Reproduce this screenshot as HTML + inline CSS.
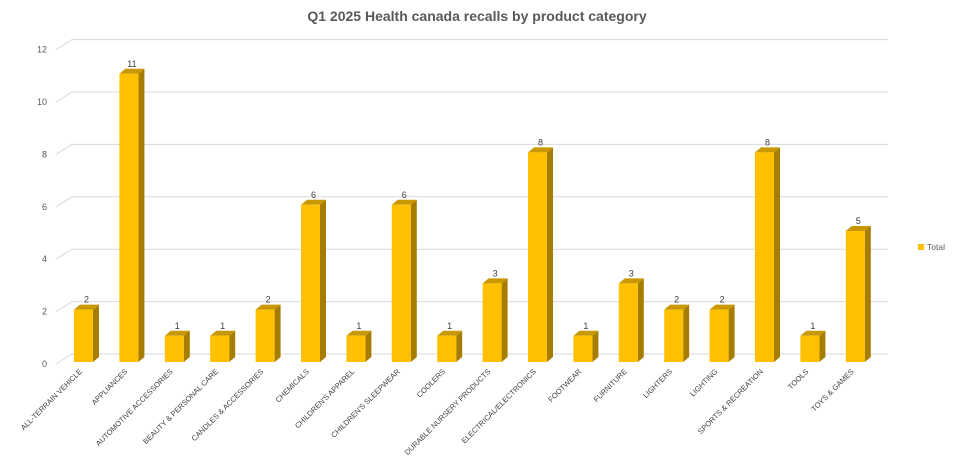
<!DOCTYPE html>
<html><head><meta charset="utf-8"><style>
html,body{margin:0;padding:0;background:#fff;}
svg{display:block;font-family:"Liberation Sans",Arial,sans-serif;}
</style></head><body>
<svg width="954" height="469" viewBox="0 0 954 469" xmlns="http://www.w3.org/2000/svg">
<text x="477" y="21" text-anchor="middle" font-size="14" font-weight="bold" fill="#595959">Q1 2025 Health canada recalls by product category</text>
<g stroke="#d9d9d9" stroke-width="1" fill="none">
<path d="M56 364 L72 354 L888 354"/>
<path d="M56 311.6 L72 301.6 L888 301.6"/>
<path d="M56 259.2 L72 249.2 L888 249.2"/>
<path d="M56 206.8 L72 196.8 L888 196.8"/>
<path d="M56 154.4 L72 144.4 L888 144.4"/>
<path d="M56 102 L72 92 L888 92"/>
<path d="M56 49.6 L72 39.6 L888 39.6"/>
</g>
<g font-size="9" fill="#595959" text-anchor="end">
<text x="47" y="367">0</text>
<text x="47" y="314.6">2</text>
<text x="47" y="262.2">4</text>
<text x="47" y="209.8">6</text>
<text x="47" y="157.4">8</text>
<text x="47" y="105">10</text>
<text x="47" y="52.6">12</text>
</g>
<defs>
<g id="b1"><polygon points="19,335.8 25,330.8 25,357 19,362" fill="#a67d00"/><polygon points="0,335.8 6,330.8 25,330.8 19,335.8" fill="#c99700"/><rect x="0" y="335.8" width="19" height="26.2" fill="#ffc000"/><text x="12.5" y="328.8" font-size="9" fill="#404040" text-anchor="middle">1</text></g>
<g id="b2"><polygon points="19,309.6 25,304.6 25,357 19,362" fill="#a67d00"/><polygon points="0,309.6 6,304.6 25,304.6 19,309.6" fill="#c99700"/><rect x="0" y="309.6" width="19" height="52.4" fill="#ffc000"/><text x="12.5" y="302.6" font-size="9" fill="#404040" text-anchor="middle">2</text></g>
<g id="b3"><polygon points="19,283.4 25,278.4 25,357 19,362" fill="#a67d00"/><polygon points="0,283.4 6,278.4 25,278.4 19,283.4" fill="#c99700"/><rect x="0" y="283.4" width="19" height="78.6" fill="#ffc000"/><text x="12.5" y="276.4" font-size="9" fill="#404040" text-anchor="middle">3</text></g>
<g id="b5"><polygon points="19,231 25,226 25,357 19,362" fill="#a67d00"/><polygon points="0,231 6,226 25,226 19,231" fill="#c99700"/><rect x="0" y="231" width="19" height="131" fill="#ffc000"/><text x="12.5" y="224" font-size="9" fill="#404040" text-anchor="middle">5</text></g>
<g id="b6"><polygon points="19,204.8 25,199.8 25,357 19,362" fill="#a67d00"/><polygon points="0,204.8 6,199.8 25,199.8 19,204.8" fill="#c99700"/><rect x="0" y="204.8" width="19" height="157.2" fill="#ffc000"/><text x="12.5" y="197.8" font-size="9" fill="#404040" text-anchor="middle">6</text></g>
<g id="b8"><polygon points="19,152.4 25,147.4 25,357 19,362" fill="#a67d00"/><polygon points="0,152.4 6,147.4 25,147.4 19,152.4" fill="#c99700"/><rect x="0" y="152.4" width="19" height="209.6" fill="#ffc000"/><text x="12.5" y="145.4" font-size="9" fill="#404040" text-anchor="middle">8</text></g>
<g id="b11"><polygon points="19,73.8 25,68.8 25,357 19,362" fill="#a67d00"/><polygon points="0,73.8 6,68.8 25,68.8 19,73.8" fill="#c99700"/><rect x="0" y="73.8" width="19" height="288.2" fill="#ffc000"/><text x="12.5" y="66.8" font-size="9" fill="#404040" text-anchor="middle">11</text></g>
</defs>
<use href="#b2" x="74"/>
<use href="#b11" x="119.4"/>
<use href="#b1" x="164.8"/>
<use href="#b1" x="210.2"/>
<use href="#b2" x="255.6"/>
<use href="#b6" x="301"/>
<use href="#b1" x="346.4"/>
<use href="#b6" x="391.8"/>
<use href="#b1" x="437.2"/>
<use href="#b3" x="482.6"/>
<use href="#b8" x="528"/>
<use href="#b1" x="573.4"/>
<use href="#b3" x="618.8"/>
<use href="#b2" x="664.2"/>
<use href="#b2" x="709.6"/>
<use href="#b8" x="755"/>
<use href="#b1" x="800.4"/>
<use href="#b5" x="845.8"/>
<g font-size="7.5" fill="#404040" text-anchor="end">
<text x="82.5" y="372" transform="rotate(-45 82.5 372)">ALL-TERRAIN VEHICLE</text>
<text x="127.9" y="372" transform="rotate(-45 127.9 372)">APPLIANCES</text>
<text x="173.3" y="372" transform="rotate(-45 173.3 372)">AUTOMOTIVE ACCESSORIES</text>
<text x="218.7" y="372" transform="rotate(-45 218.7 372)">BEAUTY &amp; PERSONAL CARE</text>
<text x="264.1" y="372" transform="rotate(-45 264.1 372)">CANDLES &amp; ACCESSORIES</text>
<text x="309.5" y="372" transform="rotate(-45 309.5 372)">CHEMICALS</text>
<text x="354.9" y="372" transform="rotate(-45 354.9 372)">CHILDREN'S APPAREL</text>
<text x="400.3" y="372" transform="rotate(-45 400.3 372)">CHILDREN'S SLEEPWEAR</text>
<text x="445.7" y="372" transform="rotate(-45 445.7 372)">COOLERS</text>
<text x="491.1" y="372" transform="rotate(-45 491.1 372)">DURABLE NURSERY PRODUCTS</text>
<text x="536.5" y="372" transform="rotate(-45 536.5 372)">ELECTRICAL/ELECTRONICS</text>
<text x="581.9" y="372" transform="rotate(-45 581.9 372)">FOOTWEAR</text>
<text x="627.3" y="372" transform="rotate(-45 627.3 372)">FURNITURE</text>
<text x="672.7" y="372" transform="rotate(-45 672.7 372)">LIGHTERS</text>
<text x="718.1" y="372" transform="rotate(-45 718.1 372)">LIGHTING</text>
<text x="763.5" y="372" transform="rotate(-45 763.5 372)">SPORTS &amp; RECREATION</text>
<text x="808.9" y="372" transform="rotate(-45 808.9 372)">TOOLS</text>
<text x="854.3" y="372" transform="rotate(-45 854.3 372)">TOYS &amp; GAMES</text>
</g>
<rect x="918" y="244" width="6" height="6" fill="#ffc000"/>
<text x="927" y="250" font-size="8.5" fill="#595959">Total</text>
</svg>
</body></html>
